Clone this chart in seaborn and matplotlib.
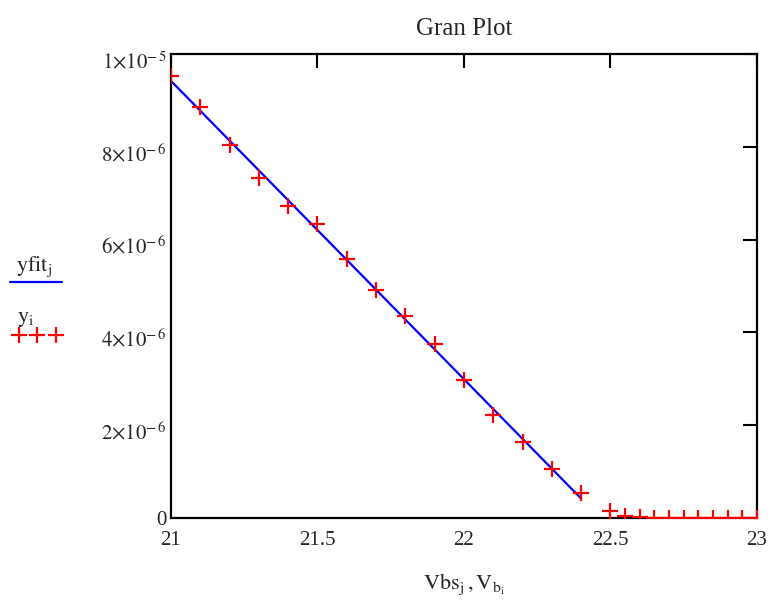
import numpy as np
import pandas as pd
import matplotlib
matplotlib.use('Agg')
import matplotlib.pyplot as plt
import matplotlib.transforms as mtransforms
from matplotlib.lines import Line2D
import seaborn as sns

# measured points (V_b, y)
vb = [21.0, 21.1, 21.2, 21.3, 21.4, 21.5, 21.6, 21.7, 21.8, 21.9, 22.0,
      22.1, 22.2, 22.3, 22.4, 22.5, 22.55, 22.6, 22.65, 22.7, 22.75,
      22.8, 22.85, 22.9, 22.95, 23.0]
y = [9.53e-6, 8.85e-6, 8.04e-6, 7.32e-6, 6.73e-6, 6.34e-6, 5.58e-6, 4.91e-6,
     4.35e-6, 3.74e-6, 2.97e-6, 2.22e-6, 1.63e-6, 1.06e-6, 0.53e-6, 0.16e-6,
     0.05e-6, 0.03e-6, 0.01e-6, 0.01e-6, 0.0, 0.0, 0.0, 0.0, 0.0, 0.0]

# fitted line (Vbs, yfit)
vbs = [21.0, 22.4]
yfit = [9.42e-6, 0.42e-6]

yticks = [0, 2e-6, 4e-6, 6e-6, 8e-6, 1e-5]
ytick_labels = ['0', r'$2{\times}10^{-\,6}$', r'$4{\times}10^{-\,6}$',
                r'$6{\times}10^{-\,6}$', r'$8{\times}10^{-\,6}$', r'$1{\times}10^{-\,5}$']
xticks = [21, 21.5, 22, 22.5, 23]
xtick_labels = ['21', '21.5', '22', '22.5', '23']

df_pts = pd.DataFrame({'Vb': vb, 'y': y})
df_fit = pd.DataFrame({'Vbs': vbs, 'yfit': yfit})

sns.set_style('white')
plt.rcParams['font.family'] = ['Liberation Serif', 'DejaVu Serif']
plt.rcParams['mathtext.fontset'] = 'stix'

fig = plt.figure(figsize=(7.75, 6.05), dpi=100)
ax = fig.add_axes([0.2206, 0.1438, 0.7561, 0.7669])

sns.lineplot(data=df_fit, x='Vbs', y='yfit', color='blue', linewidth=1.6, ax=ax)
sns.scatterplot(data=df_pts, x='Vb', y='y', marker='+', s=120, color='red',
                linewidth=1.6, ax=ax, zorder=3)

ax.set_xlim(21, 23)
ax.set_ylim(0, 1e-5)
ax.set_xticks(xticks)
ax.set_xticklabels(xtick_labels)
ax.set_yticks(yticks)
ax.set_yticklabels(ytick_labels)
ax.tick_params(direction='in', top=True, right=True, length=10, width=1.5,
               labelsize=15, color='black')
ax.tick_params(axis='x', pad=9)
ax.tick_params(axis='y', pad=3)
for s in ax.spines.values():
    s.set_color('black')
    s.set_linewidth(1.6)

# mathcad puts the y labels a little below the tick (not the 0, it would hit "21")
offset = mtransforms.ScaledTranslation(0, -4 / 72, fig.dpi_scale_trans)
for lbl in ax.get_yticklabels()[1:]:
    lbl.set_transform(lbl.get_transform() + offset)

ax.set_title('Gran Plot', fontsize=18, pad=14)
ax.set_xlabel(r'$\mathrm{Vbs}_{\mathrm{j}}\,,\mathrm{V}_{\mathrm{b}_{\mathrm{i}}}$',
              fontsize=16, labelpad=16)
ax.set_ylabel('')

# Mathcad-style legend at left
fig.text(0.020, 0.552, r'$\mathrm{yfit}_{\mathrm{j}}$', fontsize=16)
fig.add_artist(Line2D([0.013, 0.080], [0.534, 0.534], color='blue', linewidth=1.6,
                      transform=fig.transFigure))
fig.text(0.022, 0.468, r'$\mathrm{y}_{\mathrm{i}}$', fontsize=16)
fig.add_artist(Line2D([0.024, 0.048, 0.072], [0.446, 0.446, 0.446], color='red',
                      linestyle='', marker='+', markersize=11, markeredgewidth=1.6,
                      transform=fig.transFigure))

fig.savefig('out.png', dpi=100)
